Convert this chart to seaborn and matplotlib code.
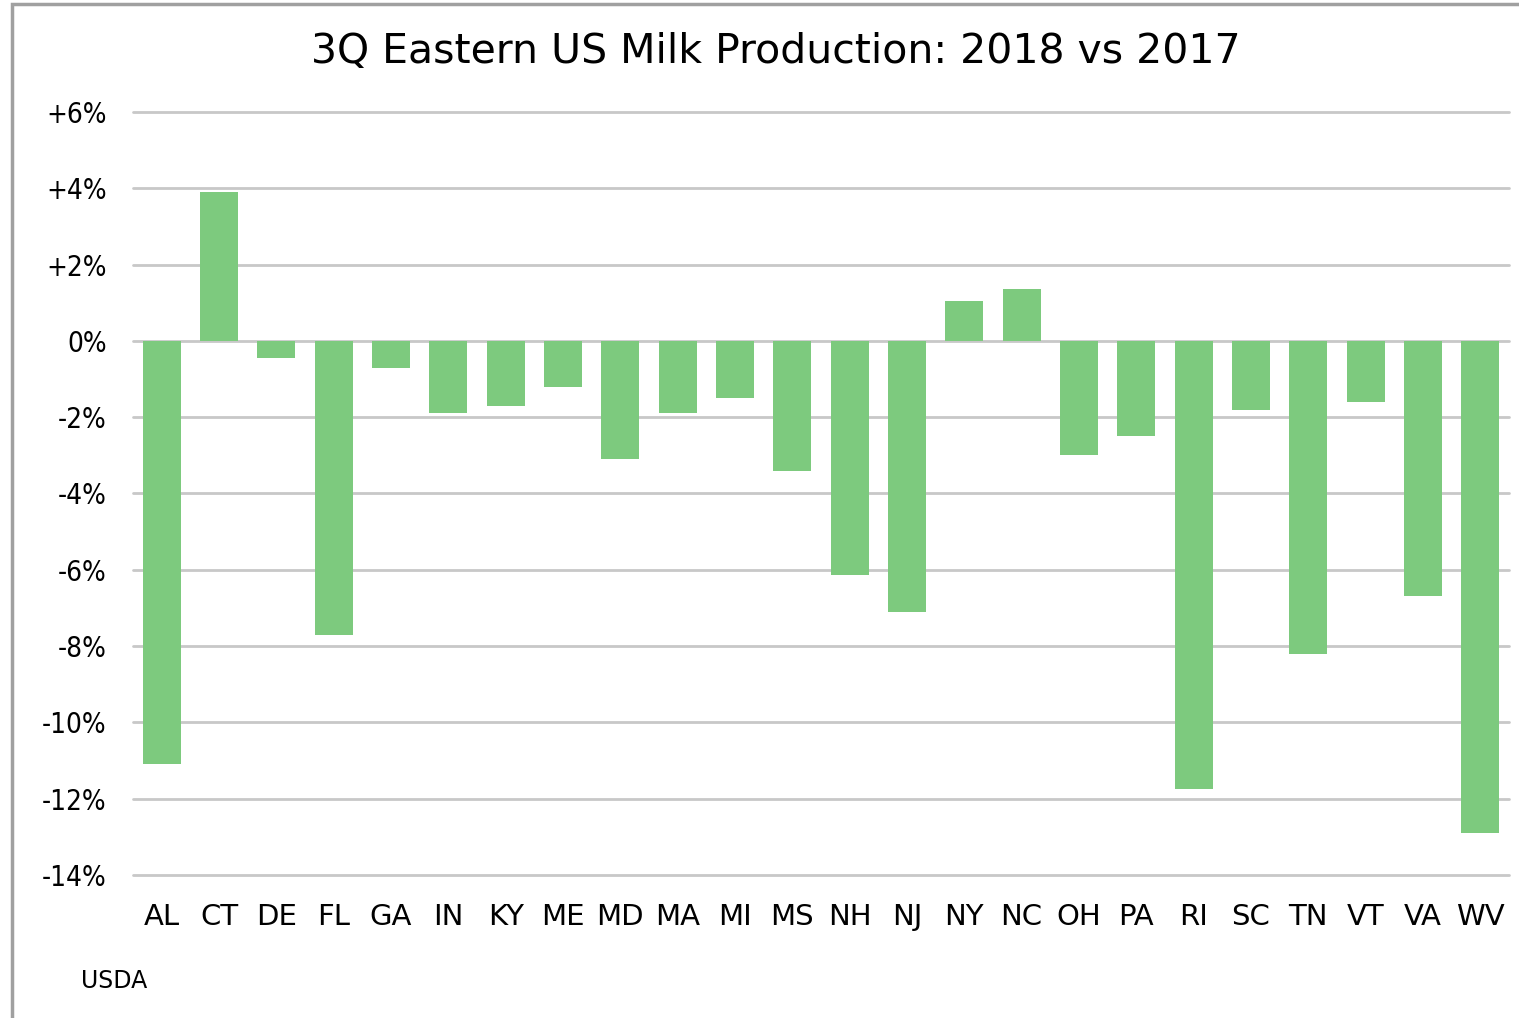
import numpy as np
import pandas as pd
import matplotlib.pyplot as plt
import matplotlib.ticker as mtick
from matplotlib.patches import Rectangle
import seaborn as sns

### Data (percent change, 3Q 2018 vs 3Q 2017)
states = ["AL", "CT", "DE", "FL", "GA", "IN", "KY", "ME", "MD", "MA", "MI", "MS",
          "NH", "NJ", "NY", "NC", "OH", "PA", "RI", "SC", "TN", "VT", "VA", "WV"]
pct_change = [-11.1, 3.9, -0.45, -7.7, -0.7, -1.9, -1.7, -1.2, -3.1, -1.9, -1.5, -3.4,
              -6.15, -7.1, 1.05, 1.35, -3.0, -2.5, -11.75, -1.8, -8.2, -1.6, -6.7, -12.9]
y_ticks = [-14, -12, -10, -8, -6, -4, -2, 0, 2, 4, 6]

df = pd.DataFrame({"state": states, "value": pct_change})

### Visual
sns.set_theme(style="white")
plt.rcParams["font.family"] = ["DejaVu Sans"]
plt.rcParams["text.color"] = "black"
plt.rcParams["xtick.color"] = "black"
plt.rcParams["ytick.color"] = "black"

fig = plt.figure(figsize=(15.19, 10.18), dpi=100)
ax = fig.add_axes([0.0876, 0.1405, 0.9058, 0.7495])

for t in y_ticks:
    ax.axhline(t, color="#c8c8c8", linewidth=2, zorder=0, clip_on=False)

sns.barplot(data=df, x="state", y="value", color="#7dca7e", saturation=1,
            width=0.66, linewidth=0, ax=ax, zorder=2)

ax.set_ylim(-14, 6)
ax.set_xlim(-0.5, len(states) - 0.5)
ax.set_yticks(y_ticks)
ax.yaxis.set_major_formatter(mtick.FuncFormatter(lambda v, p: f"{v:+.0f}%" if v != 0 else "0%"))
ax.tick_params(axis="y", labelsize=20, length=0, pad=19)
ax.tick_params(axis="x", labelsize=21, length=0, pad=20)
for lbl in ax.get_yticklabels():
    lbl.set_fontstretch("condensed")
ax.set(xlabel="", ylabel="")
for s in ax.spines.values():
    s.set_visible(False)

fig.text(0.511, 0.949, "3Q Eastern US Milk Production: 2018 vs 2017", ha="center", va="center",
         fontsize=29.5)
fig.text(0.053, 0.036, "USDA", ha="left", va="center", fontsize=17)

# outer chart frame
fig.patches.append(Rectangle((0.0079, -0.05), 1.2, 1.046, transform=fig.transFigure,
                             fill=False, edgecolor="#a0a0a0", linewidth=2.5))

fig.savefig("out.png", dpi=100)
